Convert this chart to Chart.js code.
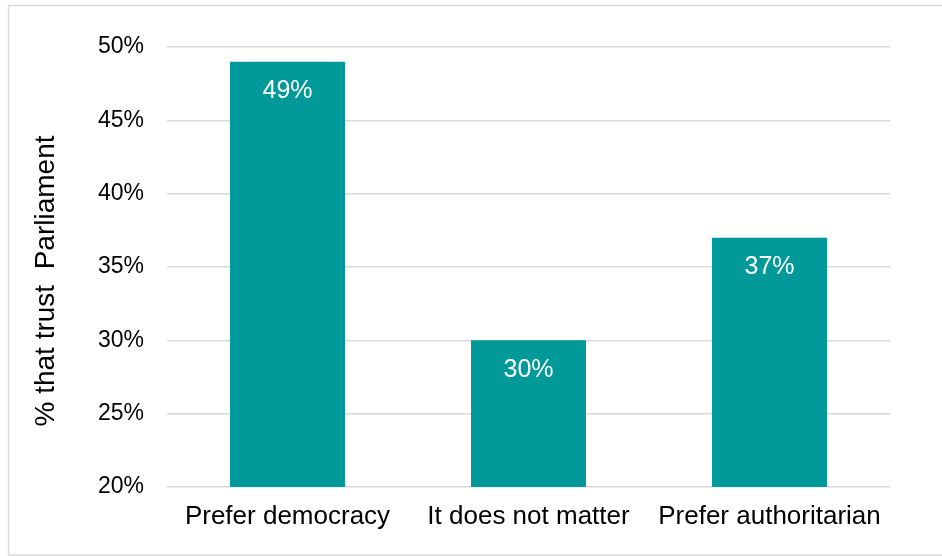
<!DOCTYPE html>
<html>
<head>
<meta charset="utf-8">
<script src="https://cdn.jsdelivr.net/npm/chart.js@4/dist/chart.umd.min.js"></script>
<style>
  html, body { margin: 0; padding: 0; background: #ffffff; }
  #wrap { position: relative; width: 942px; height: 556px; }
</style>
</head>
<body>
<div id="wrap"><canvas id="c" width="942" height="556"></canvas></div>
<script>
const categories = ["Prefer democracy", "It does not matter", "Prefer authoritarian"];
const trustValues = [49, 30, 37];
const yTitle = "% that trust  Parliament";
const yMin = 20, yMax = 50, yStep = 5;

const FONT = "'Liberation Sans', Arial, sans-serif";

const framePlugin = {
  id: 'frame',
  beforeDraw(chart) {
    const ctx = chart.ctx;
    ctx.save();
    ctx.fillStyle = '#ffffff';
    ctx.fillRect(0, 0, chart.width, chart.height);
    ctx.strokeStyle = '#d9d9d9';
    ctx.lineWidth = 1.5;
    ctx.strokeRect(8.5, 5.5, chart.width, chart.height - 6.5);
    ctx.restore();
  }
};

const valueLabelPlugin = {
  id: 'valueLabels',
  afterDatasetsDraw(chart) {
    const ctx = chart.ctx;
    const meta = chart.getDatasetMeta(0);
    ctx.save();
    ctx.fillStyle = '#ffffff';
    ctx.font = '25px ' + FONT;
    ctx.textAlign = 'center';
    ctx.textBaseline = 'alphabetic';
    meta.data.forEach((bar, i) => {
      ctx.fillText(trustValues[i] + '%', bar.x, bar.y + 36.5);
    });
    ctx.restore();
  }
};

const yTitlePlugin = {
  id: 'yTitle',
  afterDraw(chart) {
    const ctx = chart.ctx;
    const area = chart.chartArea;
    ctx.save();
    ctx.fillStyle = '#000000';
    ctx.font = '28px ' + FONT;
    ctx.textAlign = 'center';
    ctx.textBaseline = 'middle';
    ctx.translate(46, (area.top + area.bottom) / 2 + 14);
    ctx.rotate(-Math.PI / 2);
    ctx.fillText(yTitle, 0, 0);
    ctx.restore();
  }
};

new Chart(document.getElementById('c'), {
  type: 'bar',
  data: {
    labels: categories,
    datasets: [{
      data: trustValues,
      backgroundColor: '#009999',
      borderWidth: 0,
      barPercentage: 0.477,
      categoryPercentage: 1.0
    }]
  },
  options: {
    responsive: false,
    animation: false,
    devicePixelRatio: 1,
    layout: { padding: { left: 0, right: 52, top: 47, bottom: 0 } },
    plugins: {
      legend: { display: false },
      tooltip: { enabled: false },
      title: { display: false }
    },
    scales: {
      x: {
        grid: { display: false, drawTicks: false },
        border: { display: false },
        ticks: {
          color: '#000000',
          font: { family: FONT, size: 26 },
          padding: 14,
          maxRotation: 0,
          autoSkip: false
        },
        afterFit(scale) { scale.height = 69; }
      },
      y: {
        min: yMin,
        max: yMax,
        grid: { color: '#d9d9d9', lineWidth: 1.5, drawTicks: false },
        border: { display: false },
        ticks: {
          stepSize: yStep,
          color: '#000000',
          font: { family: FONT, size: 23 },
          padding: 23,
          callback: (v) => v + '%'
        },
        afterFit(scale) { scale.width = 167; }
      }
    }
  },
  plugins: [framePlugin, valueLabelPlugin, yTitlePlugin]
});
</script>
</body>
</html>
